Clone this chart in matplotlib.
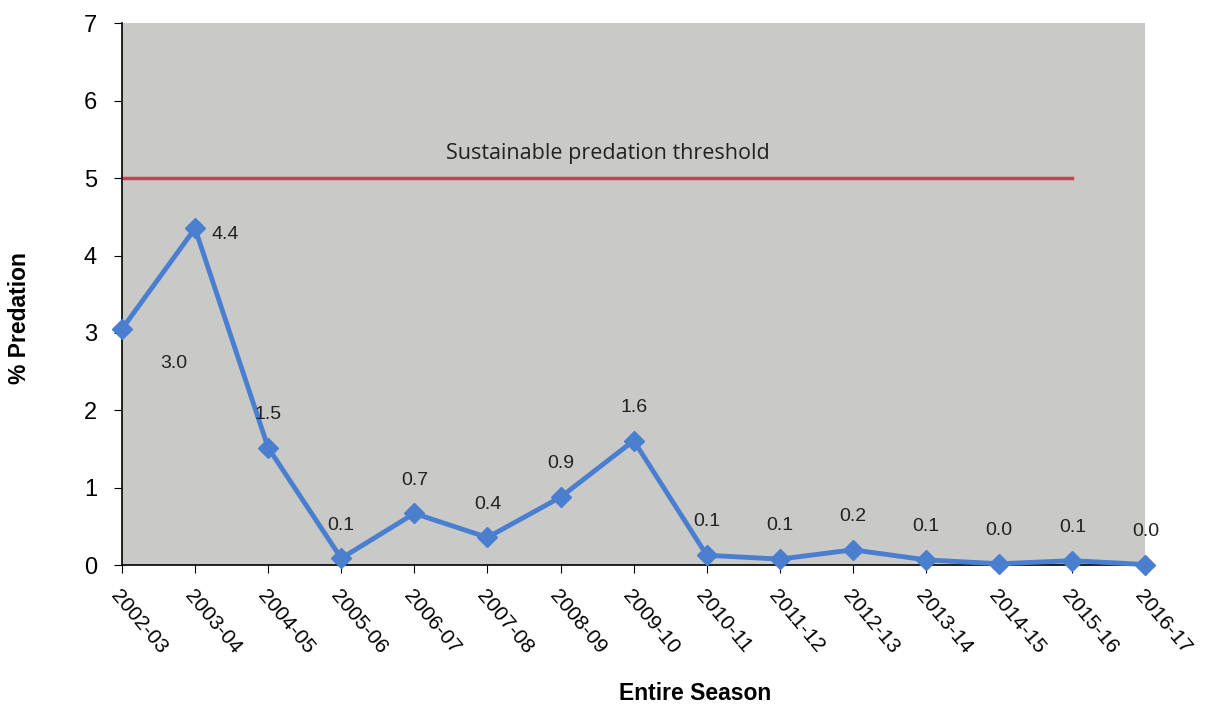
import matplotlib
matplotlib.use("Agg")
import matplotlib.pyplot as plt

# Data
seasons = ["2002-03", "2003-04", "2004-05", "2005-06", "2006-07", "2007-08",
           "2008-09", "2009-10", "2010-11", "2011-12", "2012-13", "2013-14",
           "2014-15", "2015-16", "2016-17"]
predation = [3.05, 4.35, 1.52, 0.09, 0.67, 0.36, 0.88, 1.61, 0.13, 0.08,
             0.2, 0.07, 0.02, 0.06, 0.01]
labels = ["3.0", "4.4", "1.5", "0.1", "0.7", "0.4", "0.9", "1.6", "0.1", "0.1",
          "0.2", "0.1", "0.0", "0.1", "0.0"]
threshold = 5
threshold_end = "2015-16"

plt.rcParams['font.family'] = ['Liberation Sans', 'DejaVu Sans']

fig = plt.figure(figsize=(12.07, 7.04), dpi=100)
ax = fig.add_axes([0.101, 0.197, 0.848, 0.770])
ax.set_facecolor('#c9c9c7')

x = list(range(len(seasons)))
ax.plot(x, predation, color='#4a7fd0', lw=3.5, marker='D', ms=10,
        markerfacecolor='#4a7fd0', markeredgecolor='#4a7fd0', clip_on=False, zorder=3)

# threshold line
end_idx = seasons.index(threshold_end)
ax.plot([0, end_idx], [threshold, threshold], color='#d13c55', lw=2.5, zorder=2)
ax.text(end_idx / 2 + 0.15, threshold + 0.32, "Sustainable predation threshold",
        family=['Open Sans', 'DejaVu Sans'], fontsize=15.5, color='#222222',
        ha='center', va='center')

# data labels
for i, (v, lab) in enumerate(zip(predation, labels)):
    if i == 0:
        dx, dy, ha = 37, -25, 'center'
    elif i == 1:
        dx, dy, ha = 12, -4, 'left'
    else:
        dx, dy, ha = 0, 24, 'center'
    ax.annotate(lab, (i, v), xytext=(dx, dy), textcoords='offset points',
                ha=ha, va='center', fontsize=14, color='#222222')

ax.set_xlim(0, len(seasons) - 1)
ax.set_ylim(0, 7)
ax.set_xticks(x)
ax.set_xticklabels(seasons, rotation=-50, ha='left', va='top',
                   rotation_mode='anchor', fontsize=15)
ax.set_yticks(range(0, 8))
ax.tick_params(axis='y', labelsize=17, length=6, direction='out', pad=12)
ax.tick_params(axis='x', length=6, direction='out', pad=9)

for s in ['top', 'right']:
    ax.spines[s].set_visible(False)
ax.spines['left'].set_linewidth(1.2)
ax.spines['bottom'].set_linewidth(1.2)

ax.set_xlabel("Entire Season", fontsize=16.5, fontweight='bold')
ax.set_ylabel("% Predation", fontsize=16.5, fontweight='bold')
ax.xaxis.set_label_coords(0.56, -0.236)
ax.yaxis.set_label_coords(-0.0997, 0.456)
ax.xaxis.label.set_va('center')
ax.yaxis.label.set_va('center')

fig.savefig("out.png", dpi=100)
